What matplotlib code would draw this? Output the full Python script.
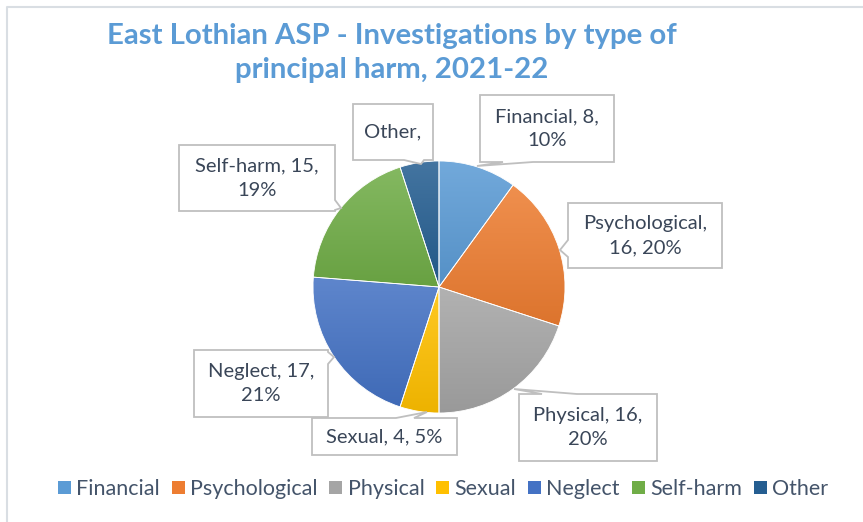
import matplotlib
matplotlib.use("Agg")
import matplotlib.pyplot as plt
from matplotlib.patches import Patch, Polygon
import matplotlib.colors as mcolors
import numpy as np

categories = ["Financial", "Psychological", "Physical", "Sexual", "Neglect", "Self-harm", "Other"]
values = [8, 16, 16, 4, 17, 15, 4]
percents = ["10%", "20%", "20%", "5%", "21%", "19%", "5%"]
label_texts = ["Financial, 8,\n10%", "Psychological,\n16, 20%", "Physical, 16,\n20%",
               "Sexual, 4, 5%", "Neglect, 17,\n21%", "Self-harm, 15,\n19%", "Other,"]
colors = ["#5B9BD5", "#ED7D31", "#A5A5A5", "#FFC000", "#4472C4", "#70AD47", "#255E91"]
title = "East Lothian ASP - Investigations by type of\nprincipal harm, 2021-22"

W, H = 863, 522
FONT = ["Lato", "DejaVu Sans"]
plt.rcParams["font.family"] = FONT

fig = plt.figure(figsize=(W / 100, H / 100), dpi=100)
ax = fig.add_axes([0, 0, 1, 1])

def Y(y):
    return H - y

cx, cy, R = 439, 287, 126
wedges, _ = ax.pie(values, colors=colors, startangle=90, counterclock=False,
                   radius=R, center=(cx, Y(cy)),
                   wedgeprops=dict(edgecolor="white", linewidth=0.6))

def mix(c, other, t):
    a = np.array(mcolors.to_rgb(c)); b = np.array(mcolors.to_rgb(other))
    return a * (1 - t) + b * t

for w, c in zip(wedges, colors):
    ext = w.get_path().get_extents()
    top = mix(c, "white", 0.14)
    bot = mix(c, "black", 0.07)
    n = 64
    t = np.linspace(0, 1, n)[:, None]
    grad = top[None, :] * (1 - t) + bot[None, :] * t
    img = np.repeat(grad[:, None, :], 2, axis=1)
    im = ax.imshow(img, extent=(ext.x0, ext.x1, ext.y0, ext.y1), origin="upper",
                   aspect="auto", zorder=1, interpolation="bilinear")
    im.set_clip_path(w)
    w.set_facecolor("none")
    w.set_zorder(2)

# label callout boxes: (x0, y0, x1, y1) in pixel coords, pointer side, base span, tip
boxes = [
    ((480, 95, 614, 162), "bottom", (503, 533), (477, 166)),
    ((568, 203, 722, 268), "left", (240, 257), (560, 250)),
    ((519, 394, 657, 461), "top", (542, 577), (514, 389)),
    ((312, 418, 457, 455), "top", (396, 414), (427, 412)),
    ((194, 350, 328, 417), "right", (352, 364), (334, 357)),
    ((179, 145, 335, 211), "right", (200, 210), (341, 208)),
    ((353, 104, 433, 160), "bottom", (404, 424), (421, 164)),
]

def callout(box, side, span, tip):
    x0, y0, x1, y1 = box
    a, b = span
    pts = [(x0, y0)]
    if side == "top":
        pts += [(a, y0), tip, (b, y0)]
    pts += [(x1, y0)]
    if side == "right":
        pts += [(x1, a), tip, (x1, b)]
    pts += [(x1, y1)]
    if side == "bottom":
        pts += [(b, y1), tip, (a, y1)]
    pts += [(x0, y1)]
    if side == "left":
        pts += [(x0, b), tip, (x0, a)]
    return [(px, Y(py)) for px, py in pts]

for txt, (box, side, span, tip) in zip(label_texts, boxes):
    poly = Polygon(callout(box, side, span, tip), closed=True, facecolor="white",
                   edgecolor="#BFBFBF", linewidth=1.3, zorder=4)
    ax.add_patch(poly)
    x0, y0, x1, y1 = box
    ax.text((x0 + x1) / 2, Y((y0 + y1) / 2), txt, ha="center", va="center",
            fontsize=14.5, color="#3A4658", linespacing=1.5, zorder=5)

ax.text(392, Y(53), title, ha="center", va="center", fontsize=21.2,
        fontweight="bold", color="#5B9BD5", linespacing=1.42)

handles = [Patch(facecolor=c, edgecolor="none") for c in colors]
ax.legend(handles, categories, loc="center", bbox_to_anchor=(443 / W, 1 - 489 / H),
          ncol=7, frameon=False, fontsize=15.5, handlelength=0.6, handleheight=0.6,
          handletextpad=0.25, columnspacing=0.55, labelcolor="#44546A",
          borderpad=0, borderaxespad=0)

# faint chart border
ax.plot([7, 7, W], [Y(H), Y(7), Y(7)], color="#D9DEE3", linewidth=1.5)

ax.set_xlim(0, W)
ax.set_ylim(0, H)
ax.set_aspect("equal")
ax.axis("off")
fig.savefig("out.png", dpi=100, facecolor="white")
